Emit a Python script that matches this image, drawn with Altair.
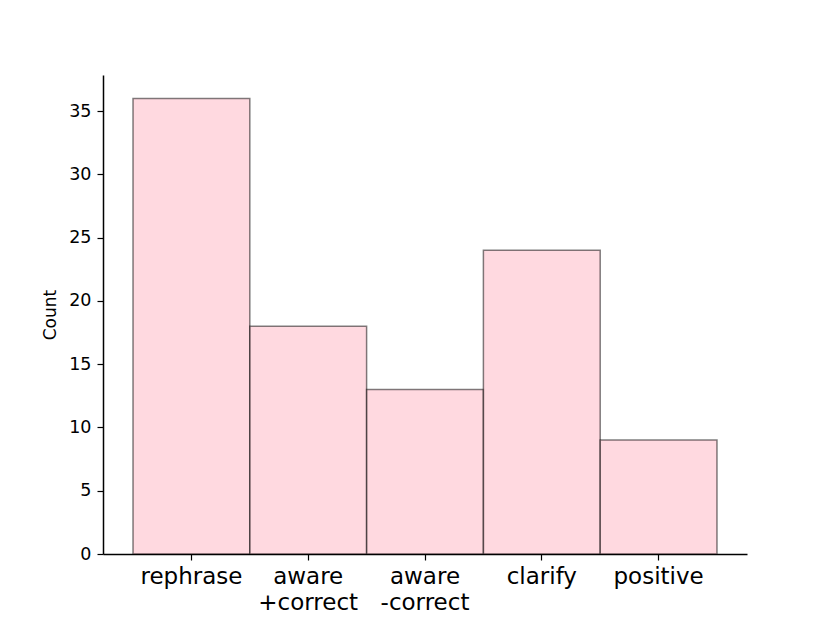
import altair as alt
import pandas as pd

categories = ["rephrase", "aware\n+correct", "aware\n-correct", "clarify", "positive"]
counts = [36, 18, 13, 24, 9]

df = pd.DataFrame({"cat": categories, "count": counts})

chart = alt.Chart(df).mark_bar(
    fill="#FFC0CB", fillOpacity=0.6, stroke="#000000", strokeOpacity=0.5, strokeWidth=1.5
).encode(
    x=alt.X("cat:N", sort=categories,
            scale=alt.Scale(paddingInner=0, paddingOuter=0.257),
            axis=alt.Axis(title=None, labelAngle=0, labelFontSize=23, labelFont="DejaVu Sans",
                          labelColor="black", labelExpr="split(datum.label, '\\n')",
                          labelPadding=5, tickSize=6, tickColor="black", domainColor="black",
                          tickWidth=1.2, domainWidth=1.5, labelLineHeight=26)),
    y=alt.Y("count:Q", scale=alt.Scale(domain=[0, 37.85], nice=False),
            axis=alt.Axis(title="Count", values=[0, 5, 10, 15, 20, 25, 30, 35], grid=False,
                          labelFontSize=17.5, labelFont="DejaVu Sans", labelColor="black",
                          titleFontSize=17, titleFont="DejaVu Sans", titleFontWeight="normal",
                          titleColor="black", titlePadding=9, tickSize=6, tickColor="black",
                          domainColor="black", tickWidth=1.2, domainWidth=1.5, labelPadding=6)),
).properties(
    width=644, height=479,
    autosize=alt.AutoSizeParams(type="none"),
    padding={"left": 95, "top": 67, "right": 75, "bottom": 61},
).configure_view(stroke=None)

chart.save("out.html", embed_options={"renderer": "svg", "actions": False})
